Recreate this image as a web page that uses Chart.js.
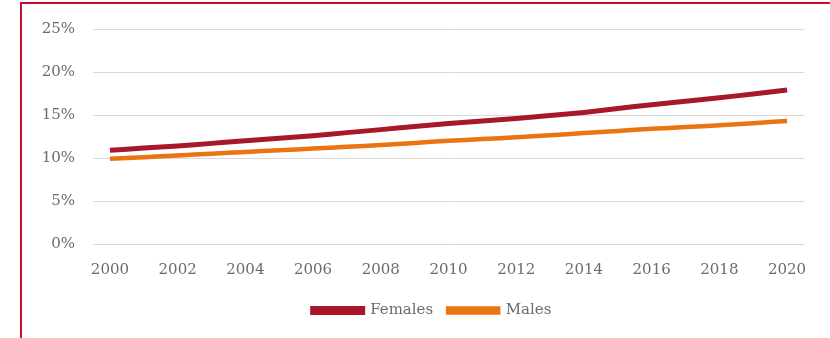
<!DOCTYPE html>
<html>
<head>
<meta charset="utf-8">
<script src="https://cdn.jsdelivr.net/npm/chart.js@4/dist/chart.umd.min.js"></script>
<style>
  html, body { margin: 0; padding: 0; background: #fff; }
  #wrap { position: relative; width: 830px; height: 338px; overflow: hidden; }
  #frame { position: absolute; left: 20px; top: 2px; width: 900px; height: 400px;
           border-left: 2px solid #c8102e; border-top: 2px solid #c8102e; }
  canvas { position: absolute; left: 0; top: 0; }
</style>
</head>
<body>
<div id="wrap">
  <div id="frame"></div>
  <canvas id="chart" width="830" height="338"></canvas>
</div>
<script>
// Data
const years = ['2000','2001','2002','2003','2004','2005','2006','2007','2008','2009','2010',
               '2011','2012','2013','2014','2015','2016','2017','2018','2019','2020'];
const females = [10.9, 11.15, 11.4, 11.7, 12.0, 12.3, 12.6, 12.95, 13.3, 13.65, 14.0,
                 14.3, 14.6, 14.95, 15.3, 15.75, 16.2, 16.6, 17.0, 17.45, 17.9];
const males = [9.9, 10.1, 10.3, 10.5, 10.7, 10.9, 11.1, 11.3, 11.5, 11.75, 12.0,
               12.2, 12.4, 12.65, 12.9, 13.15, 13.4, 13.6, 13.8, 14.05, 14.3];
const yTicks = [0, 5, 10, 15, 20, 25];

const textColor = '#6b6b6b';
const font = { family: '"DejaVu Serif", serif', size: 15 };

// legend sits a bit right of centre in the original
const legendShift = {
  id: 'legendShift',
  afterLayout: function (chart) {
    chart.legend.left += 30;
    chart.legend.right += 30;
  }
};

const ctx = document.getElementById('chart').getContext('2d');
new Chart(ctx, {
  type: 'line',
  data: {
    labels: years,
    datasets: [
      { label: 'Females', data: females, borderColor: '#a8182a', backgroundColor: '#a8182a',
        borderWidth: 5, pointRadius: 0, tension: 0.2 },
      { label: 'Males', data: males, borderColor: '#ea7410', backgroundColor: '#ea7410',
        borderWidth: 4.5, pointRadius: 0, tension: 0.2 }
    ]
  },
  options: {
    responsive: false,
    animation: false,
    layout: { padding: { top: 29, right: 26, bottom: 10, left: 0 } },
    plugins: {
      tooltip: { enabled: false },
      legend: {
        position: 'bottom',
        labels: { color: textColor, font: font, boxWidth: 50, boxHeight: 4, padding: 15 }
      }
    },
    scales: {
      x: {
        offset: true,
        grid: { display: false },
        border: { display: false },
        ticks: {
          color: textColor, font: font, padding: 9, autoSkip: false, maxRotation: 0,
          callback: function (v, i) { return i % 2 === 0 ? years[i] : ''; }
        }
      },
      y: {
        min: 0, max: 25,
        afterFit: function (s) { s.width = 93; },
        afterBuildTicks: function (s) { s.ticks = yTicks.map(v => ({ value: v })); },
        grid: { color: '#d9d9d9', lineWidth: 1, drawTicks: false },
        border: { display: false },
        ticks: {
          color: textColor, font: font, padding: 18,
          callback: function (v) { return v + '%'; }
        }
      }
    }
  },
  plugins: [legendShift]
});
</script>
</body>
</html>
